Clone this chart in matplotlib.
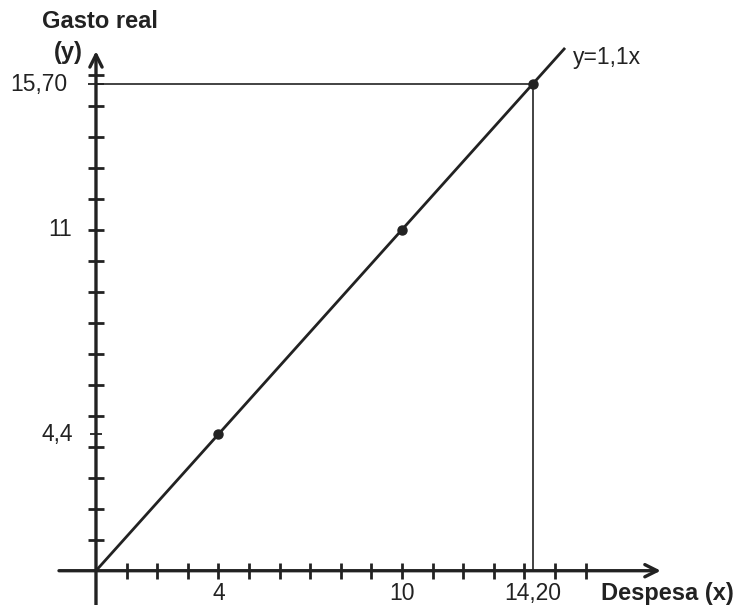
import matplotlib
matplotlib.use("Agg")
import matplotlib.pyplot as plt

plt.rcParams['font.family'] = ['Liberation Sans', 'DejaVu Sans']

# data
slope = 1.1
point_x = [4, 10, 15.7 / 1.1]
point_y = [4.4, 11, 15.7]
x_tick_vals = [4, 10, 15.7 / 1.1]
x_tick_labels = ['4', '10', '14,20']
y_tick_vals = [4.4, 11, 15.7]
y_tick_labels = ['4,4', '11', '15,70']
minor_x = list(range(1, 17))
minor_y = list(range(1, 17))
line_end_x = 15.3

fig = plt.figure(figsize=(7.37, 6.05), dpi=100)
ax = fig.add_axes([0, 0, 1, 1])
ax.set_xlim(-3.137, 20.95)
ax.set_ylim(-1.106, 18.41)
ax.axis('off')

col = '#222222'
# axes
ax.annotate('', xy=(18.55, 0), xytext=(-1.3, 0),
            arrowprops=dict(arrowstyle='->', color=col, lw=2.4, mutation_scale=22))
ax.annotate('', xy=(0, 16.85), xytext=(0, -1.2),
            arrowprops=dict(arrowstyle='->', color=col, lw=2.4, mutation_scale=22))

# ticks
ax.plot(minor_x, [0] * len(minor_x), ls='none', marker='|', ms=11, mew=2, color=col)
ax.plot([0] * len(minor_y), minor_y, ls='none', marker='_', ms=11, mew=2, color=col)
ax.plot([0], [4.4], ls='none', marker='_', ms=8, mew=1.3, color=col)
ax.plot([0], [15.7], ls='none', marker='_', ms=11, mew=1.3, color=col)

# guide lines
px, py = point_x[-1], point_y[-1]
ax.plot([0, px], [py, py], color=col, lw=1.2)
ax.plot([px, px], [0, py], color=col, lw=1.2)

# function line
ax.plot([0, line_end_x], [0, slope * line_end_x], color=col, lw=2)
ax.plot(point_x, point_y, 'o', color=col, ms=6.5)

fs = 16.5
fsb = 17
for v, lab in zip(x_tick_vals, x_tick_labels):
    ax.text(v, -0.72, lab, ha='center', va='center', fontsize=fs, color=col)
y_label_x = [-0.75, -0.78, -0.92]
for v, lab, lx in zip(y_tick_vals, y_tick_labels, y_label_x):
    ax.text(lx, v, lab, ha='right', va='center', fontsize=fs, color=col)

ax.text(0.13, 17.72, 'Gasto real', ha='center', va='center', fontsize=fsb,
        fontweight='bold', color=col)
ax.text(-0.42, 16.72, '(y)', ha='right', va='center', fontsize=fsb,
        fontweight='bold', color=col)
ax.text(16.52, -0.72, 'Despesa (x)', ha='left', va='center', fontsize=fsb,
        fontweight='bold', color=col)
ax.text(15.6, 16.57, 'y=1,1x', ha='left', va='center', fontsize=fs, color=col)

fig.savefig('out.png', dpi=100)
